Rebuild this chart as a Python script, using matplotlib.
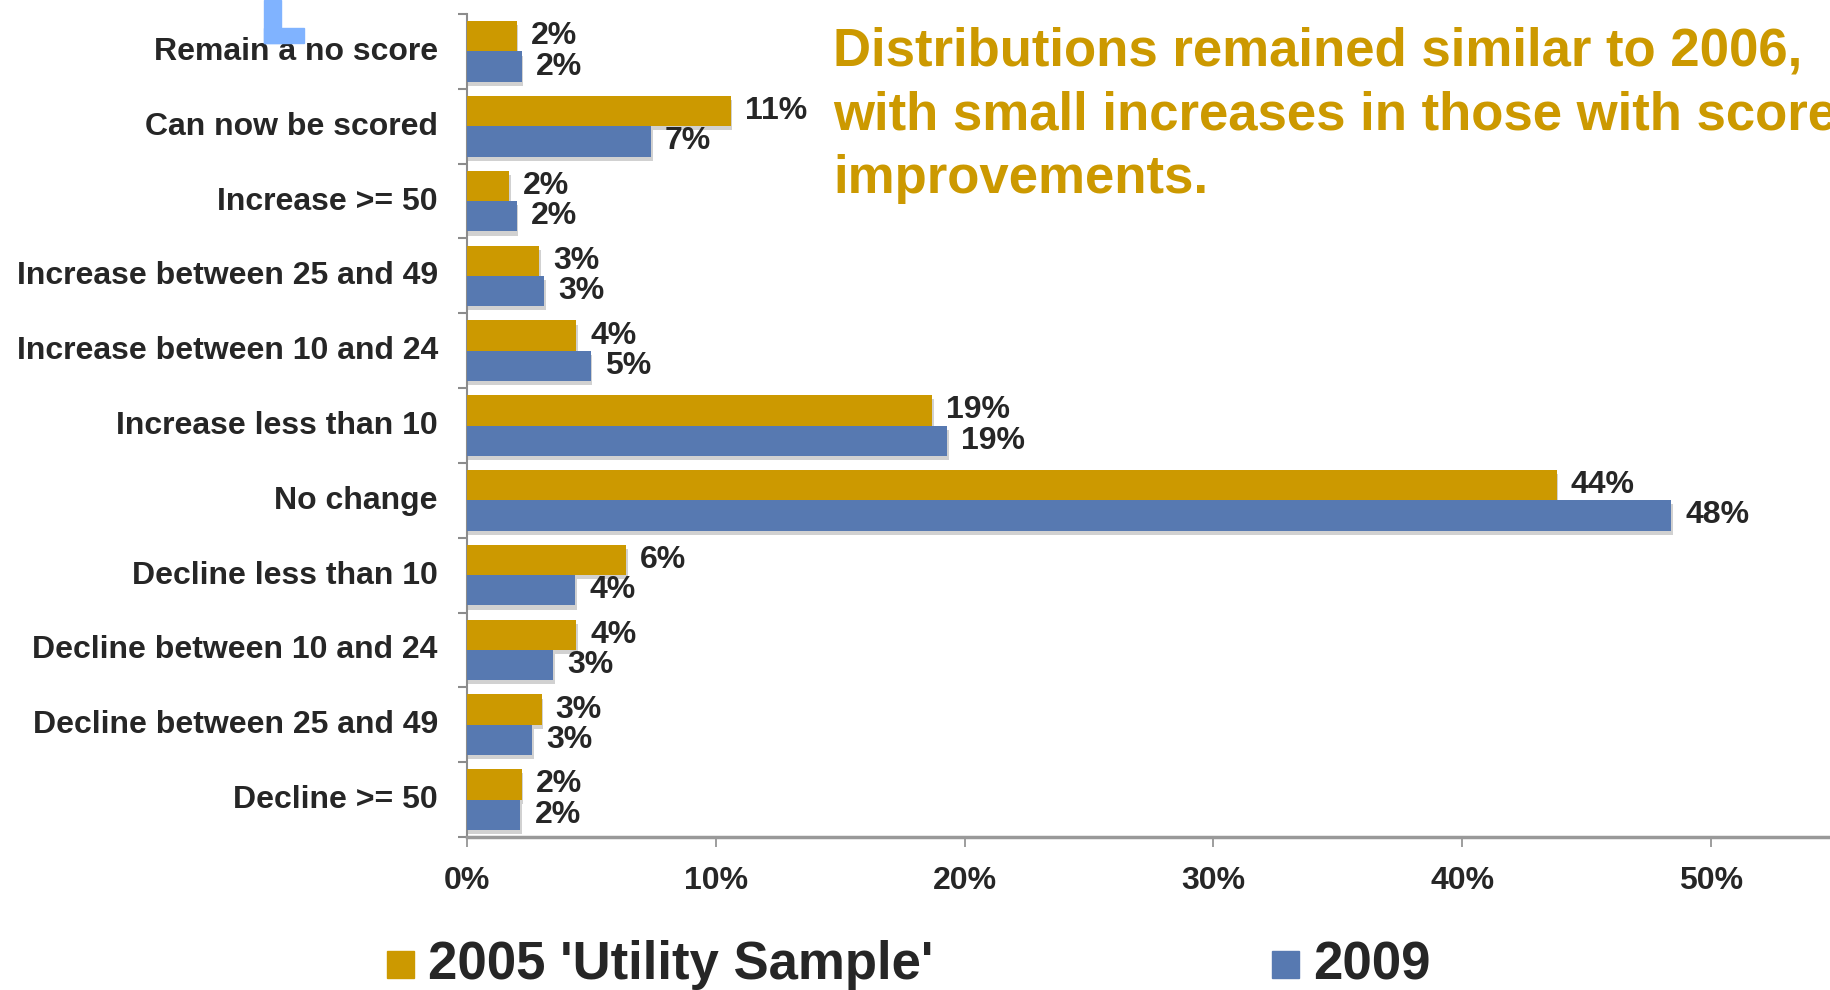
import matplotlib
matplotlib.use("Agg")
import matplotlib.pyplot as plt
from matplotlib.patches import Rectangle
from matplotlib.ticker import FixedLocator, PercentFormatter
import matplotlib.patheffects as pe
import numpy as np

categories = ["Remain a no score", "Can now be scored", "Increase >= 50",
              "Increase between 25 and 49", "Increase between 10 and 24",
              "Increase less than 10", "No change", "Decline less than 10",
              "Decline between 10 and 24", "Decline between 25 and 49",
              "Decline >= 50"]
series_2005 = [2.0, 10.6, 1.7, 2.9, 4.4, 18.7, 43.8, 6.4, 4.4, 3.0, 2.2]
series_2009 = [2.2, 7.4, 2.0, 3.1, 4.97, 19.3, 48.4, 4.36, 3.47, 2.63, 2.15]
series_names = ["2005 'Utility Sample'", "2009"]
xticks = [0, 10, 20, 30, 40, 50]
title_text = ("Distributions remained similar to 2006,\n"
              "with small increases in those with score\n"
              "improvements.")

GOLD = "#CC9900"
BLUE = "#5779B1"
TXT = "#262626"
GRAY = "#8C8C8C"
FS = 23

plt.rcParams['font.family'] = ['Liberation Sans', 'DejaVu Sans']

W, H = 1830, 990
fig = plt.figure(figsize=(W / 100, H / 100), dpi=100)
ax = fig.add_axes([467 / W, 1 - 837 / H, 1493 / W, (837 - 14) / H])

n = len(categories)
y = np.arange(n)
bh = 0.405
shadow = [pe.SimplePatchShadow(offset=(1, -3), shadow_rgbFace="#9a9a9a", alpha=0.45), pe.Normal()]
b1 = ax.barh(y - bh / 2, series_2005, height=bh, color=GOLD, label=series_names[0], zorder=3)
b2 = ax.barh(y + bh / 2, series_2009, height=bh, color=BLUE, label=series_names[1], zorder=3)
for b in list(b1) + list(b2):
    b.set_path_effects(shadow)

for bars, vals in ((b1, series_2005), (b2, series_2009)):
    for rect, v in zip(bars, vals):
        ax.annotate(f"{round(v):d}%", xy=(v, rect.get_y() + rect.get_height() / 2),
                    xytext=(10, 0), textcoords="offset points", ha="left", va="center",
                    fontsize=FS, fontweight="bold", color=TXT, zorder=4)

ax.set_xlim(0, 60)
ax.set_ylim(n - 0.5, -0.5)
ax.set_yticks(y - 0.04)
ax.set_yticklabels(categories)
ax.yaxis.set_minor_locator(FixedLocator(np.arange(-0.5, n, 1.0)))
ax.tick_params(axis="y", which="major", length=0, pad=21, labelsize=FS, labelcolor=TXT)
ax.tick_params(axis="y", which="minor", length=6.5, width=1.5, color=GRAY)
for lab in ax.get_yticklabels():
    lab.set_fontweight("bold")

ax.set_xticks(xticks)
ax.xaxis.set_major_formatter(PercentFormatter(decimals=0))
ax.tick_params(axis="x", which="major", length=7, width=1.2, color=GRAY, pad=14,
               labelsize=FS, labelcolor=TXT)
for lab in ax.get_xticklabels():
    lab.set_fontweight("bold")

for s in ("top", "right"):
    ax.spines[s].set_visible(False)
ax.spines["left"].set_color(GRAY)
ax.spines["left"].set_linewidth(1.5)
ax.spines["bottom"].set_color("#999999")
ax.spines["bottom"].set_linewidth(2.5)

fig.text(833 / W, 1 - 26 / H, title_text, ha="left", va="top", fontsize=38,
         fontweight="bold", color=GOLD, linespacing=1.36)

# legend drawn as markers and text in figure coordinates
for xm, xt, col, name in ((387, 428, GOLD, series_names[0]), (1272, 1313, BLUE, series_names[1])):
    fig.patches.append(Rectangle((xm / W, 1 - 978 / H), 27 / W, 27 / H,
                                 transform=fig.transFigure, color=col))
    fig.text(xt / W, 1 - 965 / H, name, ha="left", va="center", fontsize=38,
             fontweight="bold", color=TXT)

# decorative light blue corner mark
LB = "#80B3FF"
fig.patches.append(Rectangle((264 / W, 1 - 43 / H), 17 / W, 43 / H, transform=fig.transFigure, color=LB))
fig.patches.append(Rectangle((264 / W, 1 - 43 / H), 40 / W, 15 / H, transform=fig.transFigure, color=LB))

fig.savefig("out.png", dpi=100)
